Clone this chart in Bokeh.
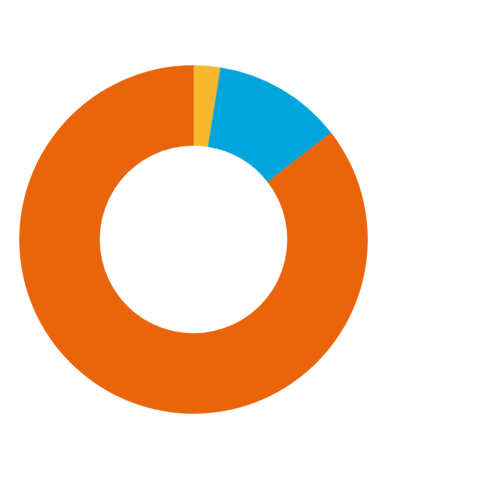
import numpy as np
from bokeh.plotting import figure
from bokeh.models import Range1d, ColumnDataSource
from bokeh.embed import file_html
from bokeh.resources import INLINE

categories = ["Yellow", "Blue", "Orange"]
values = [2.5, 12.0, 85.5]
colors = ["#F5B82E", "#00A6DB", "#EA640C"]

W = 464
p = figure(width=W, height=W, output_backend="svg", toolbar_location=None,
           x_range=Range1d(0, W), y_range=Range1d(0, W), min_border=0)
p.axis.visible = False
p.grid.visible = False
p.outline_line_color = None
p.background_fill_color = None
p.border_fill_color = None

vals = np.array(values, dtype=float)
frac = vals / vals.sum()
cum = np.concatenate([[0], np.cumsum(frac)])
start = np.pi / 2 - cum[:-1] * 2 * np.pi
end = np.pi / 2 - cum[1:] * 2 * np.pi

src = ColumnDataSource(dict(start=start, end=end, color=colors, cat=categories))
p.annular_wedge(x=193, y=225, inner_radius=94, outer_radius=174,
                start_angle="start", end_angle="end", direction="clock",
                fill_color="color", line_color="color", line_width=0.5, source=src)

open("out.html", "w").write(file_html(p, INLINE))
